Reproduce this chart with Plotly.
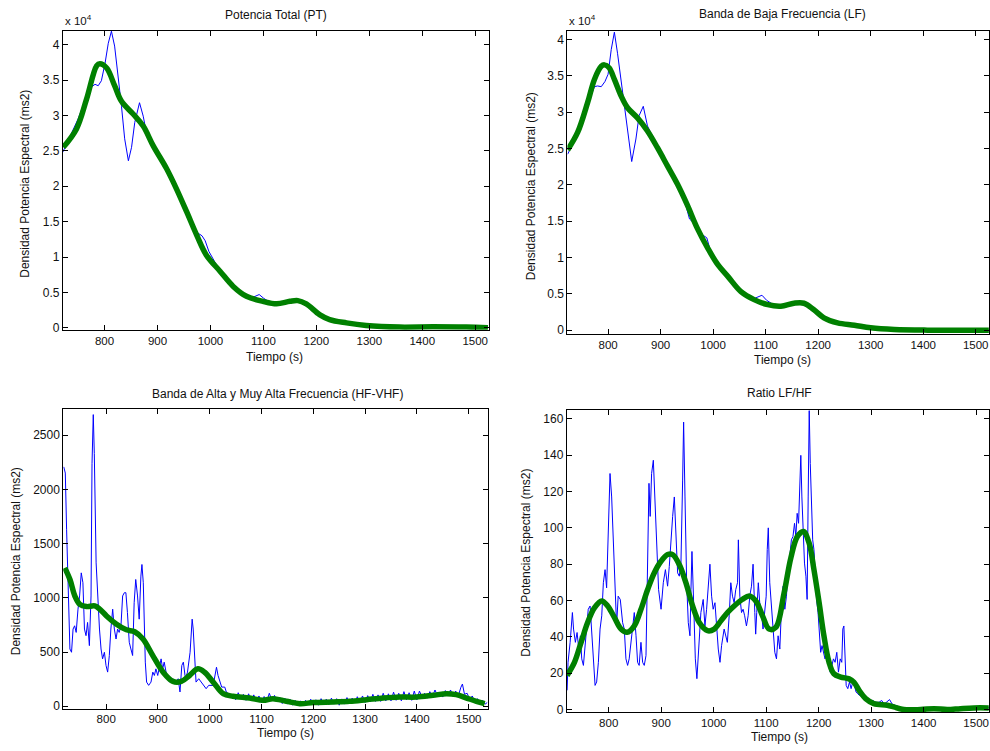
import plotly.graph_objects as go

# ---------------- data ----------------
# Potencia Total (PT)
pt_t = [721, 735, 750, 766, 775, 782, 788, 794, 801, 807, 813, 819, 826, 832, 838, 845, 851, 857,
        866, 873, 879, 886, 895, 905, 917, 936, 950, 958, 965, 974, 984, 990, 997, 1018, 1043, 1060,
        1070, 1080, 1092, 1100, 1110, 1125, 1135, 1150, 1165, 1181, 1206, 1225, 1257, 1294, 1357,
        1420, 1483, 1524]
pt_raw = [24800, 27000, 29500, 32700, 34000, 34400, 34200, 34900, 37400, 40200, 41900, 39800,
          35600, 31300, 26700, 23600, 25500, 29000, 31800, 29900, 27600, 26300, 25100, 24000,
          22500, 19600, 17000, 15300, 14900, 13500, 13000, 12300, 10800, 8000, 5850, 4900, 4400,
          4300, 4700, 4200, 3700, 3400, 3300, 3600, 3850, 3400, 1870, 1170, 700, 330, 100, 140,
          100, 0]
pt_fit_t = [722, 747, 766, 785, 791, 804, 819, 832, 854, 873, 892, 917, 936, 955, 974, 992, 1018,
            1043, 1068, 1099, 1125, 1150, 1165, 1181, 1206, 1225, 1257, 1294, 1357, 1420, 1483,
            1524]
pt_fit = [25500, 28100, 32300, 37000, 37300, 36700, 34200, 32000, 30200, 28500, 25700, 22500,
          19600, 16400, 13100, 10300, 8000, 5850, 4450, 3740, 3400, 3740, 3840, 3370, 1870, 1170,
          700, 330, 100, 140, 100, 0]

# Banda de Baja Frecuencia (LF)
lf_t = [723, 742, 761, 774, 780, 787, 794, 800, 806, 812, 818, 828, 837, 845, 853, 859, 867, 875,
        885, 894, 913, 932, 945, 955, 962, 970, 980, 988, 995, 1009, 1028, 1053, 1068, 1080, 1093,
        1102, 1115, 1129, 1140, 1155, 1173, 1192, 1211, 1237, 1269, 1300, 1345, 1408, 1525]
lf_raw = [24200, 27000, 31000, 33500, 33600, 33500, 34200, 35200, 38600, 41000, 38100, 32700,
          27200, 23200, 26300, 29500, 30800, 28100, 26600, 25200, 22600, 20100, 18000, 15300,
          14800, 14000, 13100, 12700, 10900, 9000, 7400, 5300, 4500, 4400, 4800, 4100, 3500, 3200,
          3300, 3700, 3800, 2800, 1700, 1000, 680, 320, 90, 0, 0]
lf_fit_t = [723, 742, 761, 774, 787, 793, 802, 812, 825, 837, 856, 875, 894, 913, 932, 951, 970,
            990, 1009, 1028, 1053, 1078, 1104, 1129, 1154, 1173, 1192, 1211, 1237, 1269, 1300,
            1345, 1408, 1525]
lf_fit = [24800, 27200, 31300, 34500, 36300, 36500, 36100, 34500, 32200, 30600, 29200, 27400,
          25100, 22600, 20100, 17200, 14000, 11250, 9000, 7400, 5300, 4200, 3500, 3300, 3700,
          3700, 2800, 1700, 1000, 680, 320, 90, 0, 0]

# Banda de Alta y Muy Alta Frecuencia (HF-VHF)
hf_t = [718, 721, 723.5, 726.7, 729.9, 733, 736, 739, 742, 745.5, 748.6, 751.8, 755, 758, 761,
        764, 767.5, 770.7, 772.6, 775, 777, 780.5, 783.7, 787, 790, 793, 796.5, 799.6, 802.8, 806,
        809, 812.5, 815.7, 819, 822, 825, 828.5, 831.7, 835, 838, 841, 844.5, 847.7, 851, 854,
        857, 860.5, 863.7, 867, 869, 871.6, 873.5, 875.5, 878, 882, 886.5, 890, 893, 896, 899.5,
        902.7, 906, 909, 912, 915.6, 922, 928.5, 935, 939, 942.5, 946, 949, 953, 957, 962, 966,
        968, 971, 973.5, 978.7, 983, 988, 993, 998, 1006.6, 1013, 1016, 1023, 1029, 1032, 1038,
        1045, 1050, 1055, 1060, 1065, 1070, 1075, 1080, 1085, 1090, 1095, 1100, 1105, 1110, 1115,
        1120, 1125, 1130, 1135, 1140, 1145, 1150, 1155, 1160, 1165, 1170, 1175, 1180, 1185, 1190,
        1195, 1200, 1205, 1210, 1215, 1220, 1225, 1230, 1235, 1240, 1245, 1250, 1255, 1260, 1265,
        1270, 1275, 1280, 1285, 1290, 1295, 1300, 1305, 1310, 1315, 1320, 1325, 1330, 1335, 1340,
        1345, 1350, 1355, 1360, 1365, 1370, 1375, 1380, 1385, 1390, 1395, 1400, 1405, 1410, 1415,
        1420, 1425, 1430, 1435, 1440, 1445, 1450, 1455, 1460, 1465, 1470, 1475, 1480, 1485, 1488,
        1492, 1497, 1502, 1507, 1512, 1517, 1522, 1527, 1532, 1536]
hf_raw = [2207, 2150, 1627, 955, 528, 498, 712, 742, 681, 895, 1017, 1230, 1139, 712, 651, 773,
          559, 1017, 2237, 2689, 2329, 1322, 955, 712, 528, 437, 498, 376, 315, 468, 712, 895, 712,
          620, 712, 681, 742, 1017, 1047, 1047, 864, 590, 528, 468, 955, 1169, 1017, 803, 1200,
          1307, 1139, 712, 407, 223, 193, 223, 315, 284, 345, 284, 376, 437, 345, 407, 315, 223,
          254, 223, 254, 132, 376, 407, 254, 315, 498, 803, 712, 407, 223, 254, 223, 193, 162, 193,
          192, 360, 284, 177, 177, 131, 110, 100,
          60, 125, 70, 110, 55, 115, 50, 105, 45, 95, 35, 90, 40, 120, 55, 100, 45, 85, 25, 75,
          20, 65, 10, 55, 5, 50, 5, 55, 15, 65, 15, 60, 10, 70, 20, 65, 15, 75, 20, 70, 10, 68,
          20, 80, 25, 75, 30, 88, 35, 95, 35, 98, 40, 110, 45, 105, 45, 120, 50, 115, 50, 130,
          55, 120, 50, 135, 60, 125, 55, 140, 60, 140, 85, 120, 75, 135, 90, 150, 95, 130, 85,
          145, 100, 150, 90, 140, 95, 175, 205, 110, 120, 65, 95, 40, 70, 30, 55, 20, 35]
hf_fit_t = [720, 730, 739.5, 749, 762, 778, 788, 800.6, 820, 839, 855, 871, 890, 910, 929, 945,
            961, 977, 990, 1006.6, 1026, 1045, 1077, 1103, 1122, 1148, 1174, 1200, 1238, 1270,
            1303, 1335, 1367, 1399, 1431, 1457, 1476, 1496, 1515, 1531]
hf_fit = [1276, 1169, 1016, 940, 919, 925, 894, 833, 757, 705, 687, 620, 467, 314, 229, 229, 284,
          345, 314, 223, 116, 92, 76, 55, 70, 46, 24, 34, 40, 46, 61, 76, 85, 85, 101, 116, 107,
          76, 46, 24]

# Ratio LF/HF
ratio_t = [720.7, 722.5, 726.5, 730.8, 733, 736.5, 739.7, 743, 746, 748.6, 751.8, 755, 758, 761,
           764.5, 767.6, 770.8, 774, 777, 780.3, 783.5, 786.7, 789.8, 793, 796, 799.3, 802.5,
           805.6, 808.8, 812, 815, 818, 822, 826.5, 829.7, 832.8, 836, 839, 842.4, 845.5, 848.7,
           852, 855, 858, 861.4, 864.6, 867.7, 871, 874, 876.7, 879, 881.7, 885, 888, 891, 895,
           899.7, 904, 908, 912.2, 915.4, 918.5, 921.8, 925, 928, 931.3, 934.5, 937.6, 940.8,
           942.7, 945.3, 948.5, 951.6, 954.8, 956.7, 958.6, 961.8, 965, 968, 972.4, 975.6, 980,
           983.3, 986.5, 989.7, 992.8, 996, 999, 1002.4, 1005.6, 1008.7, 1012, 1015, 1019.9, 1023,
           1026, 1029.5, 1032.6, 1035.8, 1039, 1042, 1045.4, 1047, 1049.8, 1053, 1056, 1059,
           1062.4, 1065.6, 1068.7, 1072, 1075, 1078.3, 1080, 1082, 1085, 1087.7, 1091, 1094, 1097,
           1100, 1102, 1104, 1106.8, 1110, 1113, 1116.4, 1119.6, 1122.7, 1126, 1129, 1132.3,
           1135.5, 1138.6, 1141.8, 1145, 1148, 1151, 1154, 1156.5, 1159, 1161.7, 1164.2, 1166,
           1168, 1170.6, 1173, 1175.7, 1178, 1180, 1182, 1184, 1186, 1188.6, 1191, 1193.6, 1196,
           1198.8, 1201.3, 1203.8, 1206.4, 1209, 1212, 1215, 1218.7, 1222, 1225, 1228.2, 1231.3,
           1234.5, 1237.7, 1241, 1244, 1246, 1248, 1250, 1252.4, 1255.5, 1258.7, 1261.8, 1265,
           1268, 1271.3, 1274.5, 1277.6, 1284, 1290, 1297, 1303, 1309, 1315, 1320, 1325, 1330,
           1335, 1340, 1345, 1350, 1355, 1360, 1365, 1375, 1390, 1400, 1420, 1440, 1460, 1480,
           1500, 1524]
ratio_raw = [10.6, 26, 37, 53.4, 44.3, 37, 42.4, 33.3, 40.6, 27.9, 24.3, 35.2, 44.3, 55.2, 57,
             44.3, 26, 13.3, 15.2, 26, 44.3, 51.6, 69.8, 77, 67, 98.9, 129.9, 117, 89.8, 60.6, 46,
             62.4, 60.6, 47.8, 44.3, 27.9, 24.3, 27.9, 37, 44.3, 53.4, 40.6, 26, 24.3, 37, 26,
             24.3, 29.7, 69.8, 124.5, 106.3, 129.9, 137.2, 117, 89.8, 66, 55.2, 69.8, 77, 67.9,
             78.8, 93.4, 106.3, 117, 91.6, 75.2, 73.4, 80.6, 126.3, 158.2, 117, 69.8, 47.8, 40.6,
             66, 87, 58.8, 27.9, 17, 40.6, 53.4, 60.6, 46, 55.2, 66, 80, 62.4, 55.2, 58.8, 44.3,
             33.3, 26, 35.2, 44.3, 40.6, 37, 51.6, 69.8, 62.4, 58.8, 66, 69.8, 93.4, 62.4, 53.4,
             55.2, 51.6, 46, 51.6, 62.4, 67.9, 80, 53.4, 41.5, 53.4, 69.8, 58.8, 53.4, 44.3, 53.4,
             62.4, 88, 100, 69.8, 55.2, 44.3, 31.5, 27.9, 40.6, 33.3, 55.2, 67.9, 55.2, 62.4, 77,
             84.3, 93.4, 95.2, 102.5, 95.2, 108, 102.5, 120.8, 139.9, 117, 95.2, 80.6, 73.4, 60.6,
             117, 164.5, 135.4, 111.7, 93.4, 88, 73.4, 60.6, 53.4, 38.8, 31.5, 35.2, 31.5, 27.9,
             29.7, 26, 20.6, 24.3, 27.9, 26, 31.5, 20.6, 27.9, 26, 44.3, 46, 26, 13.3, 11.5, 15.2,
             11.5, 15.2, 13.3, 9.6, 8.7, 7.8, 6.9, 6, 5.1, 5, 4, 4, 5, 3, 4, 5.5, 3, 2.5, 2, 1.5,
             0.8, 0.3, 0.2, 0.4, 0.8, 0.6, 0.3, 0.5, 0.9, 1.1, 1.0]
ratio_fit_t = [720.7, 734.7, 747.4, 760, 772.7, 786.7, 798, 810.8, 823.5, 834.9, 848.8, 861.5,
               874.2, 886.9, 899.6, 912.2, 921.8, 934.4, 947, 959.8, 972.5, 988.3, 1001, 1013.7,
               1026.4, 1039, 1055, 1067.6, 1080.3, 1093, 1105.6, 1118.3, 1134, 1147, 1159.5,
               1171, 1181.7, 1191, 1200.8, 1210, 1219.8, 1229, 1242, 1258, 1267, 1277, 1289.5,
               1305, 1330.7, 1343, 1362, 1394, 1419.5, 1445, 1470, 1495.6, 1524]
ratio_fit = [18.8, 26, 37, 48, 56, 59.8, 57, 50.7, 44.3, 42.5, 46.1, 55.2, 66.1, 75.3, 81.6,
             85.3, 85.3, 79.8, 69.8, 57, 47.9, 43.4, 44.3, 48.8, 53.4, 57, 60.7, 62.5, 59.8,
             51.6, 44.3, 45.2, 64, 83.5, 95.3, 98, 91.7, 77, 58.9, 40.6, 26, 19.7, 17.9, 16.9,
             15.1, 10.6, 6, 3.3, 2.4, 1.5, 0, 0, 0.5, 0, 0.5, 0.9, 0.9]

time_ticks = [800, 900, 1000, 1100, 1200, 1300, 1400, 1500]
psd_ticks = [0, 5000, 10000, 15000, 20000, 25000, 30000, 35000, 40000]
psd_ticktext = ["0", "0.5", "1", "1.5", "2", "2.5", "3", "3.5", "4"]
hf_ticks = [0, 500, 1000, 1500, 2000, 2500]
ratio_ticks = [0, 20, 40, 60, 80, 100, 120, 140, 160]

titles = ["Potencia Total (PT)", "Banda de Baja Frecuencia (LF)",
          "Banda de Alta y Muy Alta Frecuencia (HF-VHF)", "Ratio LF/HF"]
x_label = "Tiempo (s)"
y_label = "Densidad Potencia Espectral (ms2)"

# ---------------- figure ----------------
W, H = 990, 751
FONT = "Liberation Sans, Arial, Helvetica, sans-serif"
BLUE = "#0000ff"
GREEN = "#008000"

fig = go.Figure()

panels = [
    # (raw_t, raw, fit_t, fit, axis suffix)
    (pt_t, pt_raw, pt_fit_t, pt_fit, ""),
    (lf_t, lf_raw, lf_fit_t, lf_fit, "2"),
    (hf_t, hf_raw, hf_fit_t, hf_fit, "3"),
    (ratio_t, ratio_raw, ratio_fit_t, ratio_fit, "4"),
]
for rt, rv, ft, fv, s in panels:
    fig.add_trace(go.Scatter(x=rt, y=rv, mode="lines", line=dict(color=BLUE, width=1),
                             xaxis="x" + s, yaxis="y" + s, showlegend=False, hoverinfo="skip"))
    fig.add_trace(go.Scatter(x=ft, y=fv, mode="lines", line=dict(color=GREEN, width=5.5, shape="spline"),
                             xaxis="x" + s, yaxis="y" + s, showlegend=False))


def px_x(p):
    return p / W


def px_y(p):
    return 1 - p / H


axis_common = dict(showline=True, linecolor="black", linewidth=1, mirror="allticks",
                   ticks="inside", ticklen=5, tickcolor="black", showgrid=False, zeroline=False)
x_tickfont = dict(family=FONT, size=11.5, color="#111")
y_tickfont = dict(family=FONT, size=12, color="#111")

# pixel boxes: (left, right, top, bottom), x range, y range, y ticks
boxes = [
    ((63, 489, 31, 332), [721.4, 1525.1], [-280, 41960], psd_ticks, psd_ticktext),
    ((568, 990, 31, 336), [722.6, 1525.3], [-500, 41190], psd_ticks, psd_ticktext),
    ((63.3, 488.3, 411.7, 713.3), [717, 1537], [-21, 2741], hf_ticks, None),
    ((567.3, 990, 412.3, 716.7), [720, 1524.5], [-1.3, 165.1], ratio_ticks, None),
]
layout = {}
for i, ((l, r, t, b), xr, yr, yt, ytt) in enumerate(boxes):
    s = "" if i == 0 else str(i + 1)
    layout["xaxis" + s] = dict(axis_common, domain=[px_x(l), px_x(r)], range=xr,
                               tickvals=time_ticks, anchor="y" + s, tickfont=x_tickfont)
    ydict = dict(axis_common, domain=[px_y(b), px_y(t)], range=yr, tickvals=yt, anchor="x" + s,
                 tickfont=y_tickfont)
    if ytt:
        ydict["ticktext"] = ytt
    layout["yaxis" + s] = ydict

ann = []


def text(x, y, s, size=12, angle=0, xanchor="center"):
    ann.append(dict(x=px_x(x), y=px_y(y), xref="paper", yref="paper", text=s, showarrow=False,
                    font=dict(family=FONT, size=size, color="#111"), textangle=angle,
                    xanchor=xanchor, yanchor="middle"))


# panel titles
text(276, 15, titles[0])
text(783, 14, titles[1])
text(278, 397, titles[2])
text(780, 396, titles[3])
# x-axis labels
text(275, 359, x_label)
text(783, 362, x_label)
text(286, 738, x_label)
text(780, 742, x_label)
# y-axis labels
text(25, 185, y_label, angle=-90)
text(531, 187, y_label, angle=-90)
text(16, 565, y_label, angle=-90)
text(527, 566, y_label, angle=-90)
# exponent markers
text(63, 20, "x 10<sup>4</sup>", size=11.5, xanchor="left")
text(568, 20, "x 10<sup>4</sup>", size=11.5, xanchor="left")

fig.update_layout(width=W, height=H, margin=dict(l=0, r=0, t=0, b=0),
                  paper_bgcolor="white", plot_bgcolor="white", annotations=ann,
                  font=dict(family=FONT), **layout)

fig.write_html("out.html")
